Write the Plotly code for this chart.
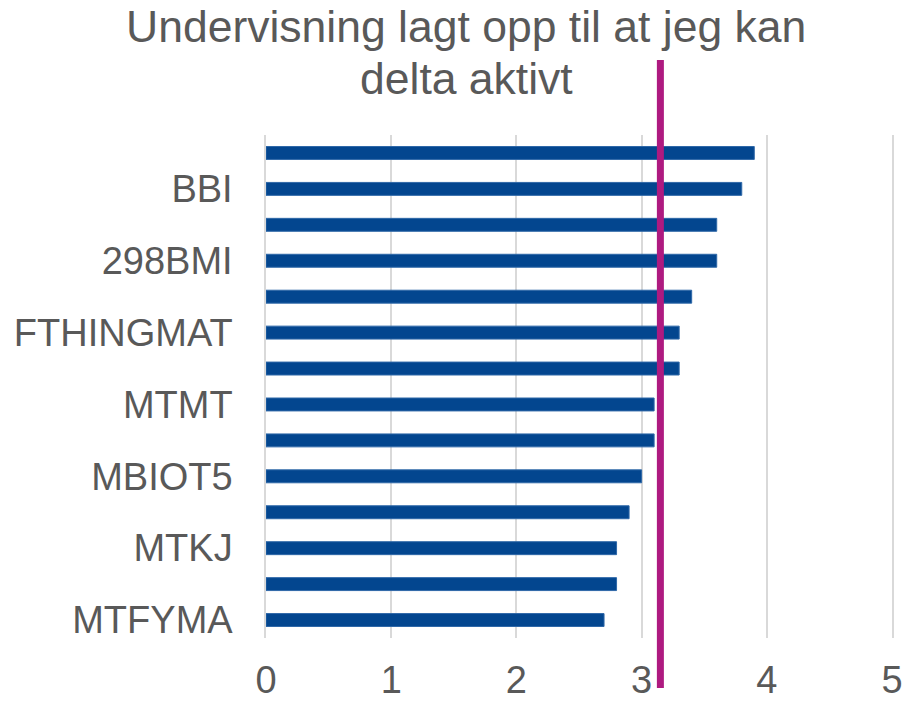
import plotly.graph_objects as go

# Data (top to bottom as shown)
labels = ["", "BBI", "", "298BMI", "", "FTHINGMAT", "", "MTMT", "", "MBIOT5", "", "MTKJ", "", "MTFYMA"]
values = [3.9, 3.8, 3.6, 3.6, 3.4, 3.3, 3.3, 3.1, 3.1, 3.0, 2.9, 2.8, 2.8, 2.7]
reference_value = 3.15
x_ticks = [0, 1, 2, 3, 4, 5]
title_lines = ["Undervisning lagt opp til at jeg kan", "delta aktivt"]

positions = list(range(len(labels)))
tick_pos = [p for p, l in zip(positions, labels) if l]
tick_txt = [l for l in labels if l]

W, H = 913, 701
L, R, T, B = 266, 21, 135, 63
plot_h = H - T - B

fig = go.Figure()
fig.add_trace(go.Bar(
    x=values, y=positions, orientation="h",
    width=0.36,
    marker=dict(color="#03468F", line=dict(color="#2F68A8", width=1)),
    hoverinfo="x",
))

# reference line (extends beyond the plot area, as in the original)
y_top = (H - B - 60) / plot_h
y_bot = (H - B - 688) / plot_h
fig.add_shape(type="line", xref="x", yref="paper",
              x0=reference_value, x1=reference_value, y0=y_bot, y1=y_top,
              line=dict(color="#AE1A80", width=7))

# title as two lines
for txt, yc in zip(title_lines, [27, 79]):
    fig.add_annotation(text=txt, xref="paper", yref="paper",
                       x=(466 - L) / (W - L - R), y=(H - B - yc) / plot_h,
                       xanchor="center", yanchor="middle", showarrow=False,
                       font=dict(size=44.5, color="#595959"))

fig.update_layout(
    width=W, height=H,
    margin=dict(l=L, r=R, t=T, b=B),
    paper_bgcolor="white", plot_bgcolor="white",
    font=dict(family="Liberation Sans, Arial, sans-serif", color="#595959", size=36),
    showlegend=False,
)
fig.update_xaxes(range=[0, 5], tickvals=x_ticks, showgrid=True, gridcolor="#D9D9D9",
                 gridwidth=1.5, zeroline=False, showline=False, ticks="",
                 tickfont=dict(size=38, color="#595959"), ticklabelstandoff=16,
                 automargin=False, fixedrange=True)
fig.update_yaxes(range=[len(labels) - 0.5, -0.5], tickvals=tick_pos, ticktext=tick_txt,
                 showgrid=False, zeroline=False, showline=True, mirror=True,
                 linecolor="#D9D9D9", linewidth=1.5, ticks="",
                 tickfont=dict(size=38, color="#595959"), ticklabelstandoff=24,
                 automargin=False, fixedrange=True)

fig.write_html("out.html", config={"displayModeBar": False},
               post_script="document.body.style.margin='0';document.body.style.overflow='hidden';")
